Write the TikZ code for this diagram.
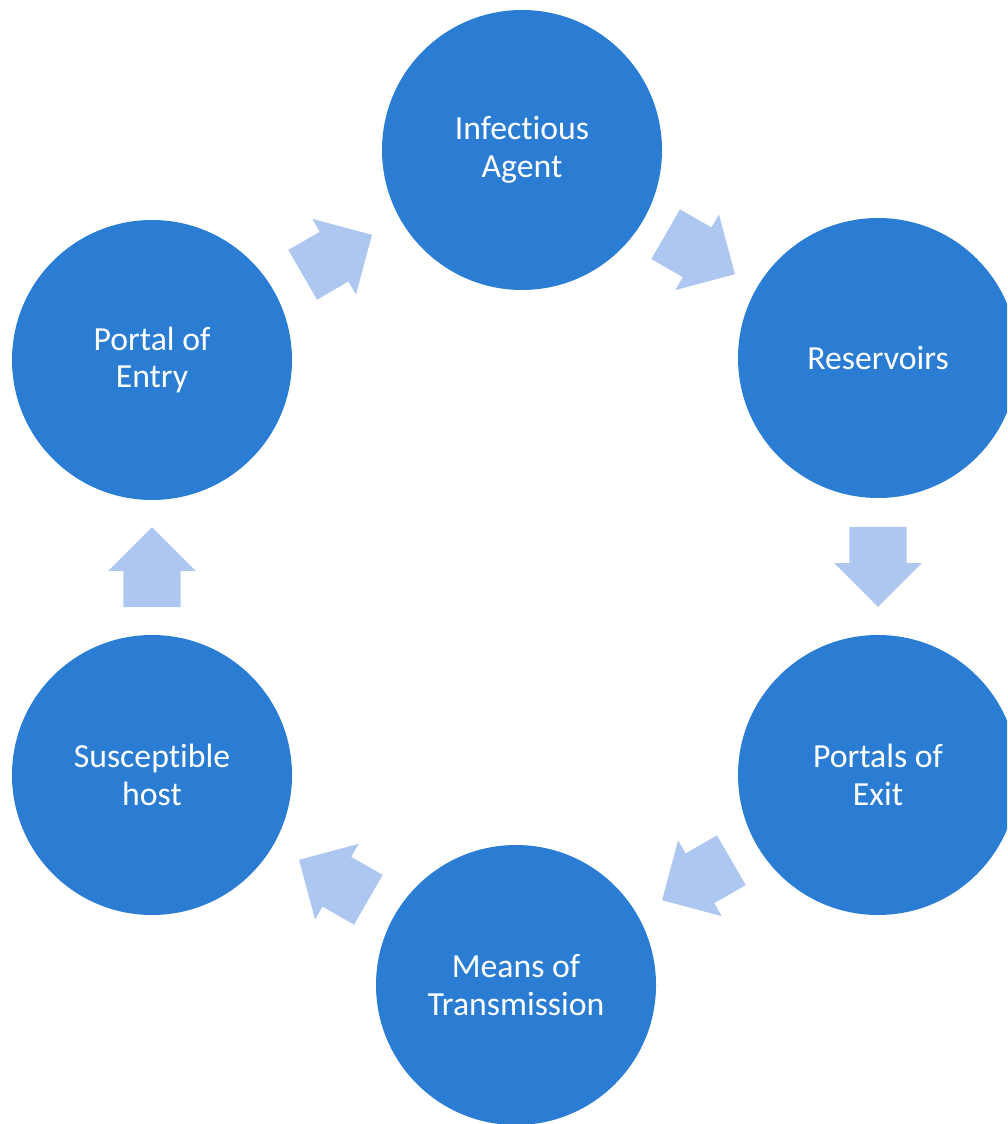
\documentclass[tikz,border=0pt]{standalone}
\usepackage{fontspec}
\setmainfont{Carlito}[Ligatures=NoCommon]
\usetikzlibrary{shapes.arrows,calc}

\definecolor{stageblue}{RGB}{42,125,210}
\definecolor{flowblue}{RGB}{174,199,240}

\begin{document}
\begin{tikzpicture}[
    stage/.style={circle, fill=stageblue, text=white, minimum size=2.8cm,
                  inner sep=0pt, align=center, font=\fontsize{9.6}{10.8}\selectfont},
    flow/.style={single arrow, fill=flowblue, inner xsep=0pt, inner ysep=0.28cm,
                 text height=0pt, text depth=0pt, minimum height=0.8cm,
                 single arrow head extend=0.15cm}
  ]
  \clip (0, 0) rectangle (10.07, -11.24);

  % the six stages
  \node[stage] (agent) at (5.22, -1.50) {Infectious\\Agent};
  \node[stage] (reservoir) at (8.78, -3.58) {Reservoirs};
  \node[stage] (exit) at (8.78, -7.75) {Portals of\\Exit};
  \node[stage] (transmission) at (5.16, -9.85) {Means of\\Transmission};
  \node[stage] (host) at (1.52, -7.75) {Susceptible\\host};
  \node[stage] (entry) at (1.52, -3.60) {Portal of\\Entry};

  % block arrows between the stages
  \foreach \from/\to/\ang in {entry/agent/30, agent/reservoir/-30, reservoir/exit/-90,
                              exit/transmission/-150, transmission/host/150, host/entry/90}
    \node[flow, rotate=\ang] (\from-\to) at ($(\from)!0.5!(\to) + (\ang:-0.14)$) {};

\end{tikzpicture}
\end{document}
